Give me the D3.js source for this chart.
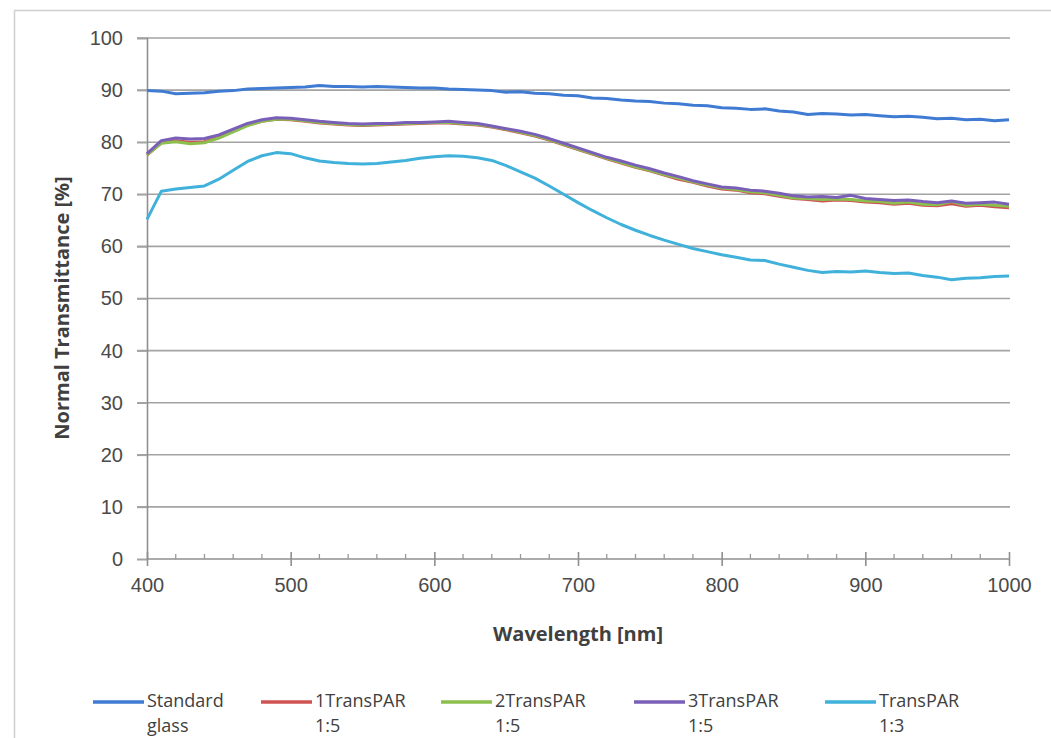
<!DOCTYPE html>
<html>
<head>
<meta charset="utf-8">
<script src="https://cdn.jsdelivr.net/npm/d3@7"></script>
<style>
  html, body { margin: 0; padding: 0; background: #fff; }
  svg { display: block; font-family: "Open Sans", "Liberation Sans", sans-serif; }
</style>
</head>
<body>
<svg id="chart" width="1051" height="738"></svg>
<script>
// ---- data ----
const wavelengths = d3.range(400, 1001, 10);
const xTicks = [400, 500, 600, 700, 800, 900, 1000];
const yTicks = [0, 10, 20, 30, 40, 50, 60, 70, 80, 90, 100];
const seriesNames = ["Standard glass", "1TransPAR 1:5", "2TransPAR 1:5", "3TransPAR 1:5", "TransPAR 1:3"];

const standardGlass = [89.9,89.8,89.3,89.4,89.5,89.8,89.9,90.2,90.3,90.4,90.5,90.6,90.9,90.7,90.7,90.6,90.7,90.6,90.5,90.4,90.4,90.2,90.1,90.0,89.9,89.6,89.7,89.4,89.3,89.0,88.9,88.5,88.4,88.1,87.9,87.8,87.5,87.4,87.1,87.0,86.6,86.5,86.3,86.4,86.0,85.8,85.3,85.5,85.4,85.2,85.3,85.1,84.9,85.0,84.8,84.5,84.6,84.3,84.4,84.1,84.3];
const transPar1 = [77.5,79.9,80.3,80.0,80.1,81.0,82.1,83.3,84.0,84.4,84.3,84.0,83.7,83.5,83.3,83.2,83.3,83.4,83.5,83.6,83.7,83.7,83.5,83.3,82.9,82.4,81.8,81.2,80.4,79.5,78.6,77.7,76.8,76.0,75.2,74.5,73.7,72.9,72.3,71.6,71.0,70.8,70.3,70.1,69.6,69.2,69.0,68.7,68.9,68.8,68.5,68.4,68.1,68.3,67.9,67.8,68.2,67.7,67.9,67.6,67.4];
const transPar2 = [77.6,79.8,80.1,79.7,79.9,80.8,82.0,83.2,84.0,84.4,84.4,84.1,83.8,83.6,83.4,83.3,83.4,83.5,83.6,83.7,83.8,83.8,83.6,83.4,83.0,82.5,81.9,81.3,80.5,79.6,78.7,77.8,76.9,76.1,75.3,74.6,73.8,73.1,72.4,71.8,71.2,70.9,70.5,70.3,69.8,69.3,69.2,69.0,69.1,69.0,68.7,68.6,68.3,68.5,68.1,68.0,68.6,67.9,68.1,67.9,67.7];
const transPar3 = [77.8,80.3,80.8,80.6,80.7,81.4,82.5,83.6,84.3,84.7,84.6,84.3,84.0,83.8,83.6,83.5,83.6,83.6,83.8,83.8,83.9,84.0,83.8,83.6,83.1,82.6,82.1,81.5,80.7,79.8,78.9,78.0,77.1,76.4,75.6,74.9,74.1,73.4,72.6,72.0,71.4,71.2,70.8,70.6,70.2,69.7,69.5,69.6,69.4,69.8,69.2,69.0,68.8,68.9,68.6,68.4,68.7,68.3,68.4,68.5,68.1];
const transPar13 = [65.2,70.6,71.0,71.3,71.6,72.9,74.6,76.3,77.4,78.0,77.8,77.0,76.4,76.1,75.9,75.8,75.9,76.2,76.5,76.9,77.2,77.4,77.3,77.0,76.5,75.5,74.3,73.1,71.6,70.0,68.4,66.9,65.5,64.2,63.1,62.1,61.2,60.4,59.6,59.0,58.4,57.9,57.4,57.3,56.6,56.0,55.4,55.0,55.2,55.1,55.3,55.0,54.8,54.9,54.4,54.1,53.6,53.9,54.0,54.2,54.3];

const seriesValues = [standardGlass, transPar1, transPar2, transPar3, transPar13];
const colors = ["#3f7bd2", "#cf5352", "#8dbf4f", "#7a5fb8", "#40b1da"];

// ---- layout ----
const svg = d3.select("#chart");
const x = d3.scaleLinear().domain([400, 1000]).range([147, 1009]);
const y = d3.scaleLinear().domain([0, 100]).range([559, 38]);

// outer frame
svg.append("rect").attr("x", 14.5).attr("y", 10.5).attr("width", 1060).attr("height", 760)
  .attr("fill", "none").attr("stroke", "#cfcfcf").attr("stroke-width", 1.5);

// horizontal gridlines
svg.append("g").selectAll("line").data(yTicks.filter(d => d > 0)).join("line")
  .attr("x1", 137).attr("x2", x(1000) + 1)
  .attr("y1", d => y(d)).attr("y2", d => y(d))
  .attr("stroke", "#a3a3a3").attr("stroke-width", 1.6);

// y axis
const yAxis = d3.axisLeft(y).tickValues(yTicks).tickSize(10).tickPadding(14).tickFormat(d3.format("d"));
const gy = svg.append("g").attr("transform", "translate(147,0)").call(yAxis);
gy.select(".domain").attr("stroke", "#8f8f8f").attr("stroke-width", 1.6);
gy.selectAll(".tick line").attr("stroke", "#a3a3a3").attr("stroke-width", 1.6);
gy.selectAll(".tick text").attr("fill", "#4a4a4a").style("font-size", "20px");

// x axis minor ticks (every 20 nm, inside)
const minorTicks = d3.range(420, 1000, 20).filter(d => d % 100 !== 0);
svg.append("g").selectAll("line").data(minorTicks).join("line")
  .attr("x1", d => x(d)).attr("x2", d => x(d))
  .attr("y1", y(0) - 5).attr("y2", y(0))
  .attr("stroke", "#9a9a9a").attr("stroke-width", 1.3);

// x axis
const xAxis = d3.axisBottom(x).tickValues(xTicks).tickSize(7).tickPadding(12).tickFormat(d3.format("d"));
const gx = svg.append("g").attr("transform", `translate(0,${y(0)})`).call(xAxis);
gx.select(".domain").attr("stroke", "#8f8f8f").attr("stroke-width", 1.6).attr("d", `M${x(400)},0H${x(1000)}`);
gx.selectAll(".tick line").attr("y1", -7).attr("stroke", "#8f8f8f").attr("stroke-width", 1.6);
gx.selectAll(".tick text").attr("fill", "#4a4a4a").style("font-size", "20px");

// axis titles
svg.append("text").attr("x", 578).attr("y", 641).attr("text-anchor", "middle")
  .attr("fill", "#404040").style("font-size", "20px").style("font-weight", "bold")
  .text("Wavelength [nm]");
svg.append("text").attr("transform", "translate(69,308) rotate(-90)").attr("text-anchor", "middle")
  .attr("fill", "#404040").style("font-size", "20px").style("font-weight", "bold")
  .text("Normal Transmittance [%]");

// lines
const line = d3.line().x((d, i) => x(wavelengths[i])).y(d => y(d));
svg.append("g").selectAll("path").data(seriesValues).join("path")
  .attr("d", d => line(d))
  .attr("fill", "none")
  .attr("stroke", (d, i) => colors[i])
  .attr("stroke-width", 3)
  .attr("stroke-linejoin", "round");

// legend
const legendX = [93, 261, 441, 634, 825];
const lg = svg.append("g").selectAll("g").data(seriesNames).join("g")
  .attr("transform", (d, i) => `translate(${legendX[i]},0)`);
lg.append("line").attr("x1", 0).attr("x2", 51).attr("y1", 702).attr("y2", 702)
  .attr("stroke", (d, i) => colors[i]).attr("stroke-width", 3.5);
const lt = lg.append("text").attr("x", 54).attr("y", 707).attr("fill", "#404040").style("font-size", "18px");
lt.append("tspan").attr("x", 54).text(d => d.split(" ")[0]);
lt.append("tspan").attr("x", 54).attr("dy", 25).text(d => d.split(" ")[1]);
</script>
</body>
</html>
